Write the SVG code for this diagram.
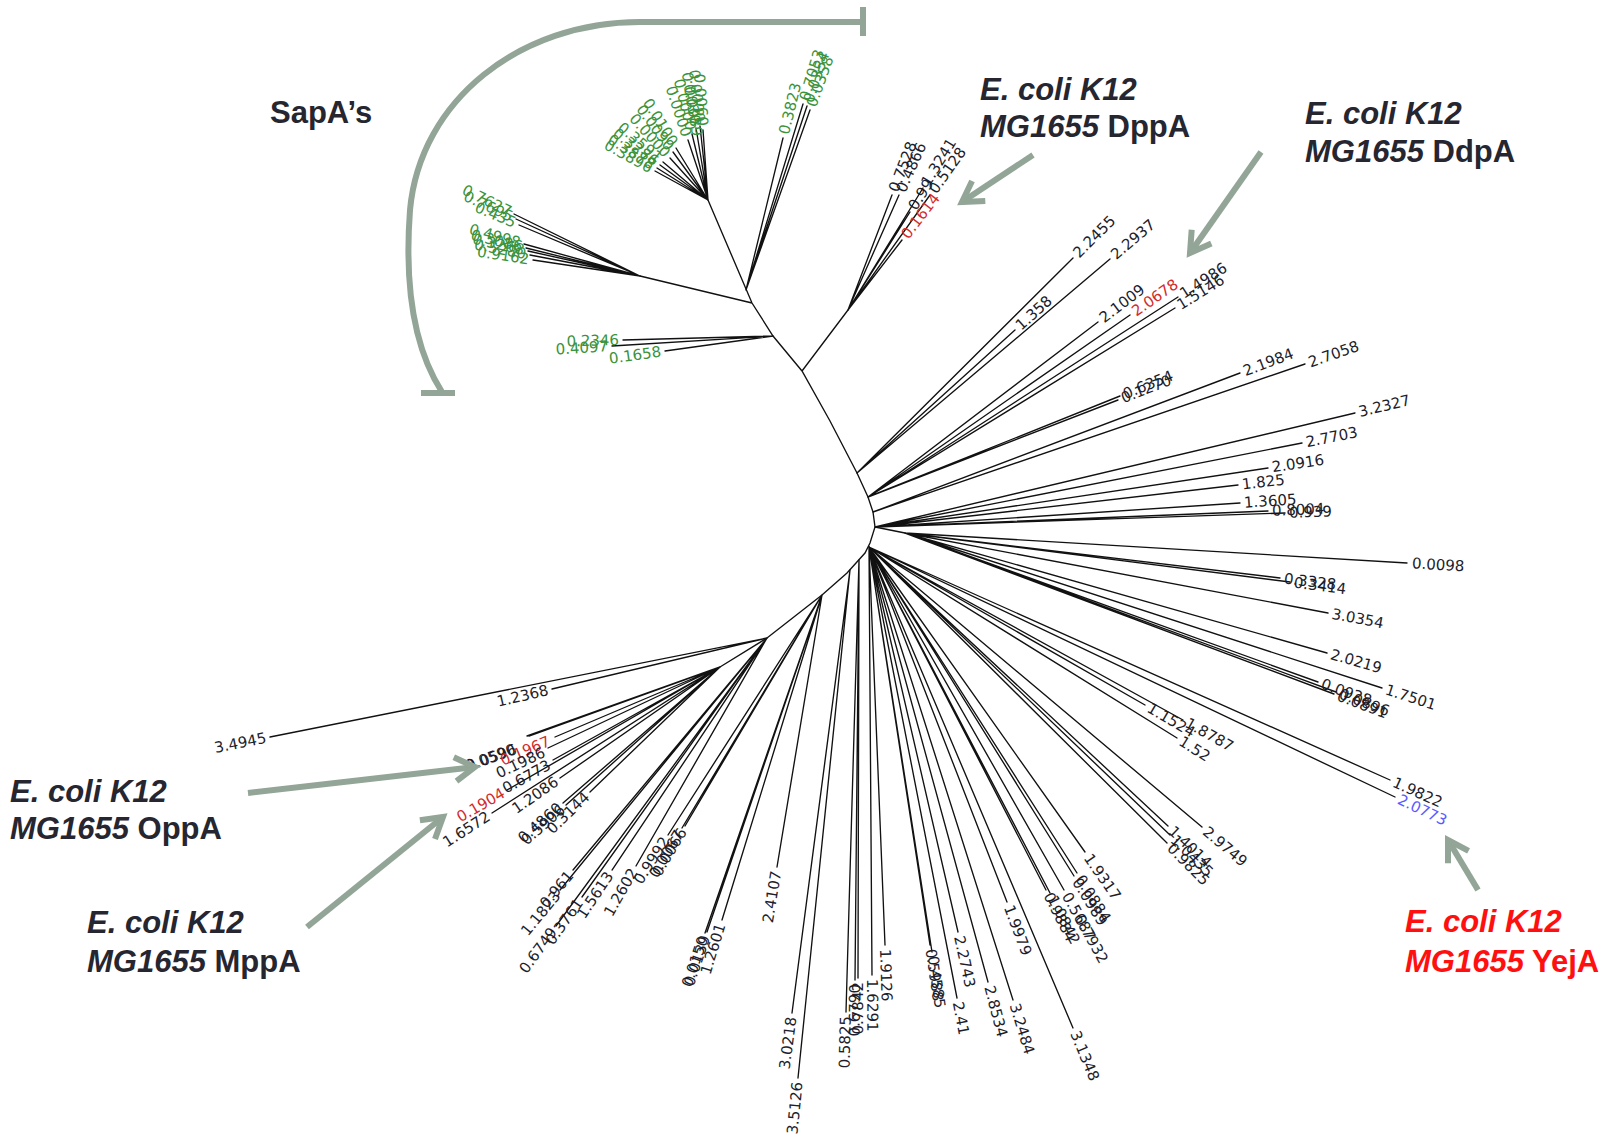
<svg xmlns="http://www.w3.org/2000/svg" width="1610" height="1140" viewBox="0 0 1610 1140">
<style>
.br{stroke:#111;stroke-width:1.35;fill:none;stroke-linecap:round}
.t{font-family:"DejaVu Sans","Liberation Sans",sans-serif;font-size:15px;fill:#1d1d2b;dominant-baseline:central}
.e{text-anchor:end}
.g{fill:#3a933a}
.r{fill:#d42a2a}
.b{fill:#5a5aff}
.ann{font-family:"Liberation Sans",Arial,sans-serif;font-weight:bold;font-size:31px;fill:#262630}
.red{fill:#ff1010}
.arr{stroke:#92a596;stroke-width:6;fill:none}
</style>
<defs>
<marker id="ah" markerUnits="userSpaceOnUse" viewBox="-30 -20 40 40" markerWidth="40" markerHeight="40" refX="0" refY="0" orient="auto" overflow="visible">
<path d="M-20,-12 L0,0 L-20,12" fill="none" stroke="#92a596" stroke-width="6"/>
</marker>
</defs>
<rect width="1610" height="1140" fill="#fff"/>

<g id="backbone">
<path class="br" d="M708,200 L752,303 L773,336 L802,371 L830,421 L857,473 L868,497 L873,512 L875,527 L870,543 L865,553 L847,573 L822,595 L767,638 L720,667 M752,303 L640,276 M802,371 L848,310 M875,527 L905,533"/>
</g>

<g id="clade-sapa-top">
<path class="br" d="M746,290 L783,138 M746,290 L803,104 M746,290 L807,106 M746,290 L810,110"/>
<text class="t g" transform="translate(783 138) rotate(-76.3)" dx="4">0.3823</text>
<text class="t g" transform="translate(803 104) rotate(-73)" dx="4">0.7053</text>
<text class="t g" transform="translate(807 106) rotate(-71.7)" dx="4">0.0354</text>
<text class="t g" transform="translate(810 110) rotate(-70.4)" dx="4">0.0358</text>
</g>

<g id="clade-sapa-upper">
<path class="br" d="M708,200 L692,134 M708,200 L696,128 M708,200 L700,126 M708,200 L703,130 M708,200 L688,140 M708,200 L698,140 M708,200 L670,158 M708,200 L673,152 M708,200 L676,148 M708,200 L657,168 M708,200 L660,165 M708,200 L663,162 M708,200 L655,171"/>
<text class="t g e" transform="translate(692 134) rotate(76.4)" dx="-4">0.0000</text>
<text class="t g e" transform="translate(696 128) rotate(80.5)" dx="-4">0.0030</text>
<text class="t g e" transform="translate(700 126) rotate(83.8)" dx="-4">0.0000</text>
<text class="t g e" transform="translate(703 130) rotate(86)" dx="-4">0.0060</text>
<text class="t g e" transform="translate(688 140) rotate(71.6)" dx="-4">0.0000</text>
<text class="t g e" transform="translate(698 140) rotate(80.5)" dx="-4">0.0089</text>
<text class="t g e" transform="translate(670 158) rotate(48)" dx="-4">0.0000</text>
<text class="t g e" transform="translate(673 152) rotate(54)" dx="-4">0.0090</text>
<text class="t g e" transform="translate(676 148) rotate(58.4)" dx="-4">0.0100</text>
<text class="t g e" transform="translate(657 168) rotate(32.1)" dx="-4">0.3878</text>
<text class="t g e" transform="translate(660 165) rotate(36.1)" dx="-4">0.3286</text>
<text class="t g e" transform="translate(663 162) rotate(40.2)" dx="-4">0.3591</text>
<text class="t g e" transform="translate(655 171) rotate(28.7)" dx="-4">0.3896</text>
</g>

<g id="clade-sapa-left">
<path class="br" d="M640,276 L514,214 M640,276 L516,219 M640,276 L519,225 M640,276 L524,244 M640,276 L526,248 M640,276 L528,251 M640,276 L530,255 M640,276 L533,260"/>
<text class="t g e" transform="translate(514 214) rotate(26.2)" dx="-4">0.7627</text>
<text class="t g e" transform="translate(516 219) rotate(24.7)" dx="-4">0.7695</text>
<text class="t g e" transform="translate(519 225) rotate(22.9)" dx="-4">0.435</text>
<text class="t g e" transform="translate(524 244) rotate(15.4)" dx="-4">0.4998</text>
<text class="t g e" transform="translate(526 248) rotate(13.8)" dx="-4">0.3086</text>
<text class="t g e" transform="translate(528 251) rotate(12.6)" dx="-4">0.3268</text>
<text class="t g e" transform="translate(530 255) rotate(10.8)" dx="-4">0.5280</text>
<text class="t g e" transform="translate(533 260) rotate(8.5)" dx="-4">0.9162</text>
</g>

<g id="clade-sapa-bottom">
<path class="br" d="M773,336 L623,340 M773,336 L612,346 M773,336 L665,351"/>
<text class="t g e" transform="translate(623 340) rotate(-1.5)" dx="-4">0.2346</text>
<text class="t g e" transform="translate(612 346) rotate(-3.6)" dx="-4">0.4097</text>
<text class="t g e" transform="translate(665 351) rotate(-7.9)" dx="-4">0.1658</text>
</g>

<g id="clade-dppa">
<path class="br" d="M848,310 L892,195 M848,310 L899,195 M848,310 L923,188 M848,310 L930,195 M848,310 L910,212 M848,310 L902,240"/>
<text class="t" transform="translate(892 195) rotate(-69)" dx="4">0.7528</text>
<text class="t" transform="translate(899 195) rotate(-65.9)" dx="4">0.4866</text>
<text class="t" transform="translate(923 188) rotate(-58.5)" dx="4">1.3241</text>
<text class="t" transform="translate(930 195) rotate(-54.5)" dx="4">0.5128</text>
<text class="t" transform="translate(910 212) rotate(-57.7)" dx="4">0.99</text>
<text class="t r" transform="translate(902 240) rotate(-52.2)" dx="4">0.1614</text>
</g>

<g id="clade-ddpa">
<path class="br" d="M857,473 L1073,258 M857,473 L1015,330 M857,473 L1110,259 M868,497 L1098,322 M868,497 L1130,315 M868,497 L1178,297 M868,497 L1175,308 M868,497 L1120,396 M868,497 L1118,400 M873,512 L1240,373 M873,512 L1305,364"/>
<text class="t" transform="translate(1073 258) rotate(-44.9)" dx="4">2.2455</text>
<text class="t" transform="translate(1015 330) rotate(-42.1)" dx="4">1.358</text>
<text class="t" transform="translate(1110 259) rotate(-40.2)" dx="4">2.2937</text>
<text class="t" transform="translate(1098 322) rotate(-37.3)" dx="4">2.1009</text>
<text class="t r" transform="translate(1130 315) rotate(-34.8)" dx="4">2.0678</text>
<text class="t" transform="translate(1178 297) rotate(-32.8)" dx="4">1.4986</text>
<text class="t" transform="translate(1175 308) rotate(-31.6)" dx="4">1.5146</text>
<text class="t" transform="translate(1120 396) rotate(-21.8)" dx="4">0.6354</text>
<text class="t" transform="translate(1118 400) rotate(-21.2)" dx="4">0.1270</text>
<text class="t" transform="translate(1240 373) rotate(-20.7)" dx="4">2.1984</text>
<text class="t" transform="translate(1305 364) rotate(-18.9)" dx="4">2.7058</text>
</g>

<g id="clade-right-upper">
<path class="br" d="M875,527 L1355,413 M875,527 L1302,443 M875,527 L1268,468 M875,527 L1238,485 M875,527 L1240,503 M875,527 L1268,511 M875,527 L1285,513"/>
<text class="t" transform="translate(1355 413) rotate(-13.4)" dx="4">3.2327</text>
<text class="t" transform="translate(1302 443) rotate(-11.1)" dx="4">2.7703</text>
<text class="t" transform="translate(1268 468) rotate(-8.5)" dx="4">2.0916</text>
<text class="t" transform="translate(1238 485) rotate(-6.6)" dx="4">1.825</text>
<text class="t" transform="translate(1240 503) rotate(-3.8)" dx="4">1.3605</text>
<text class="t" transform="translate(1268 511) rotate(-2.3)" dx="4">0.8004</text>
<text class="t" transform="translate(1285 513) rotate(-2)" dx="4">0.939</text>
</g>

<g id="clade-right-lower">
<path class="br" d="M905,533 L1407,563 M905,533 L1280,578 M905,533 L1290,582 M905,533 L1328,613 M905,533 L1327,653 M905,533 L1382,688 M905,533 L1318,682 M905,533 L1336,692 M905,533 L1334,694"/>
<text class="t" transform="translate(1407 563) rotate(3.4)" dx="5">0.0098</text>
<text class="t" transform="translate(1280 578) rotate(6.8)" dx="4">0.3328</text>
<text class="t" transform="translate(1290 582) rotate(7.3)" dx="4">0.3414</text>
<text class="t" transform="translate(1328 613) rotate(10.7)" dx="4">3.0354</text>
<text class="t" transform="translate(1327 653) rotate(15.9)" dx="4">2.0219</text>
<text class="t" transform="translate(1382 688) rotate(18)" dx="4">1.7501</text>
<text class="t" transform="translate(1318 682) rotate(19.8)" dx="4">0.0928</text>
<text class="t" transform="translate(1336 692) rotate(20.3)" dx="4">0.0896</text>
<text class="t" transform="translate(1334 694) rotate(20.6)" dx="4">0.0891</text>
</g>

<g id="clade-yeja">
<path class="br" d="M869,547 L1390,780 M869,547 L1395,797 M869,547 L1145,705 M869,547 L1183,720 M869,547 L1177,738 M869,547 L1202,827 M869,547 L1168,826 M869,547 L1170,835 M869,547 L1167,843"/>
<text class="t" transform="translate(1390 780) rotate(24.3)" dx="4">1.9822</text>
<text class="t b" transform="translate(1395 797) rotate(25.6)" dx="4">2.0773</text>
<text class="t" transform="translate(1145 705) rotate(30.2)" dx="4">1.1524</text>
<text class="t" transform="translate(1183 720) rotate(29.2)" dx="4">1.8787</text>
<text class="t" transform="translate(1177 738) rotate(32.1)" dx="4">1.52</text>
<text class="t" transform="translate(1202 827) rotate(40.4)" dx="4">2.9749</text>
<text class="t" transform="translate(1168 826) rotate(43.4)" dx="4">1.4014</text>
<text class="t" transform="translate(1170 835) rotate(44.1)" dx="4">1.0435</text>
<text class="t" transform="translate(1167 843) rotate(45.2)" dx="4">0.9825</text>
</g>

<g id="clade-down-right">
<path class="br" d="M869,547 L1085,852 M869,547 L1077,873 M869,547 L1074,876 M869,547 L1064,890 M869,547 L1050,893 M869,547 L1046,890 M869,547 L1007,902 M869,547 L1073,1028 M869,547 L1013,1000 M869,547 L988,982 M869,547 L958,932 M869,547 L957,998 M869,547 L932,952 M869,547 L930,945 M869,547 L885,945 M869,547 L872,975"/>
<text class="t" transform="translate(1085 852) rotate(55.2)" dx="4">1.9317</text>
<text class="t" transform="translate(1077 873) rotate(58)" dx="4">0.0884</text>
<text class="t" transform="translate(1074 876) rotate(58.6)" dx="4">0.0989</text>
<text class="t" transform="translate(1064 890) rotate(60.9)" dx="4">0.5687</text>
<text class="t" transform="translate(1064 890) rotate(60.9)" dx="30">0.7932</text>
<text class="t" transform="translate(1050 893) rotate(62.9)" dx="4">1.0842</text>
<text class="t" transform="translate(1046 890) rotate(63.2)" dx="4">0.9884</text>
<text class="t" transform="translate(1007 902) rotate(69.3)" dx="4">1.9979</text>
<text class="t" transform="translate(1073 1028) rotate(67.4)" dx="4">3.1348</text>
<text class="t" transform="translate(1013 1000) rotate(72.8)" dx="4">3.2484</text>
<text class="t" transform="translate(988 982) rotate(75.2)" dx="4">2.8534</text>
<text class="t" transform="translate(958 932) rotate(77.5)" dx="4">2.2743</text>
<text class="t" transform="translate(957 998) rotate(79.4)" dx="4">2.41</text>
<text class="t" transform="translate(932 952) rotate(81.7)" dx="4">0.4585</text>
<text class="t" transform="translate(930 945) rotate(81.8)" dx="4">0.5988</text>
<text class="t" transform="translate(885 945) rotate(88.3)" dx="4">1.9126</text>
<text class="t" transform="translate(872 975) rotate(89.6)" dx="4">1.6291</text>
</g>

<g id="clade-down">
<path class="br" d="M859,560 L858,978 M859,560 L855,980 M859,560 L846,1012 M850,570 L792,1013 M850,570 L798,1078 M822,595 L777,867 M822,595 L707,932 M822,595 L705,933 M822,595 L722,920 M822,595 L668,835 M822,595 L682,828 M822,595 L685,826"/>
<text class="t e" transform="translate(858 978) rotate(-89.9)" dx="-4">0.7842</text>
<text class="t e" transform="translate(855 980) rotate(-89.5)" dx="-4">0.6790</text>
<text class="t e" transform="translate(846 1012) rotate(-88.4)" dx="-4">0.5825</text>
<text class="t e" transform="translate(792 1013) rotate(-82.5)" dx="-4">3.0218</text>
<text class="t e" transform="translate(798 1078) rotate(-84.2)" dx="-4">3.5126</text>
<text class="t e" transform="translate(777 867) rotate(-80.6)" dx="-4">2.4107</text>
<text class="t e" transform="translate(707 932) rotate(-71.2)" dx="-4">0.0139</text>
<text class="t e" transform="translate(705 933) rotate(-70.9)" dx="-4">0.0150</text>
<text class="t e" transform="translate(722 920) rotate(-72.9)" dx="-4">1.2601</text>
<text class="t e" transform="translate(668 835) rotate(-57.3)" dx="-4">0.9992</text>
<text class="t e" transform="translate(682 828) rotate(-59)" dx="-4">0.0067</text>
<text class="t e" transform="translate(685 826) rotate(-59.3)" dx="-4">0.0066</text>
</g>

<g id="clade-down-left">
<path class="br" d="M767,638 L636,866 M767,638 L612,870 M767,638 L582,897 M767,638 L573,870 M767,638 L560,890 M767,638 L556,926 M767,638 L552,689 M767,638 L270,737"/>
<text class="t e" transform="translate(636 866) rotate(-60.1)" dx="-4">1.2602</text>
<text class="t e" transform="translate(612 870) rotate(-56.3)" dx="-4">1.5613</text>
<text class="t e" transform="translate(582 897) rotate(-54.5)" dx="-4">0.3761</text>
<text class="t e" transform="translate(573 870) rotate(-50.1)" dx="-4">0.961</text>
<text class="t e" transform="translate(560 890) rotate(-50.6)" dx="-4">1.1823</text>
<text class="t e" transform="translate(556 926) rotate(-53.8)" dx="-4">0.6749</text>
<text class="t e" transform="translate(552 689) rotate(-13.3)" dx="-4">1.2368</text>
<text class="t e" transform="translate(270 737) rotate(-11.3)" dx="-4">3.4945</text>
</g>

<g id="clade-oppa">
<path class="br" d="M720,667 L527,736 M720,667 L529,736 M720,667 L555,737 M720,667 L548,748 M720,667 L553,760 M720,667 L507,790 M720,667 L560,778 M720,667 L492,813 M720,667 L563,803 M720,667 L566,805 M720,667 L590,792"/>
<text class="t e" transform="translate(517 748) rotate(-19.7)" dx="-2">0.0590</text>
<text class="t e" transform="translate(518 748) rotate(-19.9)" dx="-2">0.0596</text>
<text class="t e r" transform="translate(553 739) rotate(-23)" dx="-4">0.1967</text>
<text class="t e" transform="translate(548 750) rotate(-25.2)" dx="-4">0.1986</text>
<text class="t e" transform="translate(553 762) rotate(-29.1)" dx="-4">0.6773</text>
<text class="t e r" transform="translate(507 790) rotate(-30)" dx="-4">0.1904</text>
<text class="t e" transform="translate(560 778) rotate(-34.7)" dx="-4">1.2086</text>
<text class="t e" transform="translate(492 813) rotate(-32.6)" dx="-4">1.6572</text>
<text class="t e" transform="translate(563 803) rotate(-40.9)" dx="-4">0.4860</text>
<text class="t e" transform="translate(566 805) rotate(-41)" dx="-4">0.5906</text>
<text class="t e" transform="translate(590 792) rotate(-43.9)" dx="-4">0.3144</text>
</g>

<g id="sapa-bracket">
<path class="arr" d="M863,22 L640,22 C520,22 420,100 410,210 C404,290 415,350 442,392 M863,7 L863,36 M421,393 L455,393"/>
<text class="ann" x="270" y="123" font-size="29">SapA’s</text>
</g>

<g id="label-dppa">
<text class="ann" x="980" y="100"><tspan font-style="italic">E. coli K12</tspan><tspan x="980" y="137" font-style="italic">MG1655</tspan> DppA</text>
</g>
<g id="label-ddpa">
<text class="ann" x="1305" y="124"><tspan font-style="italic">E. coli K12</tspan><tspan x="1305" y="162" font-style="italic">MG1655</tspan> DdpA</text>
</g>
<g id="label-oppa">
<text class="ann" x="10" y="802"><tspan font-style="italic">E. coli K12</tspan><tspan x="10" y="839" font-style="italic">MG1655</tspan> OppA</text>
</g>
<g id="label-mppa">
<text class="ann" x="87" y="933"><tspan font-style="italic">E. coli K12</tspan><tspan x="87" y="972" font-style="italic">MG1655</tspan> MppA</text>
</g>
<g id="label-yeja">
<text class="ann red" x="1405" y="932"><tspan font-style="italic">E. coli K12</tspan><tspan x="1405" y="972" font-style="italic">MG1655</tspan> YejA</text>
</g>

<g id="connectors">
<line class="arr" x1="1033" y1="155" x2="962" y2="202" marker-end="url(#ah)"/>
<line class="arr" x1="1261" y1="152" x2="1190" y2="253" marker-end="url(#ah)"/>
<line class="arr" x1="248" y1="793" x2="475" y2="767" marker-end="url(#ah)"/>
<line class="arr" x1="307" y1="927" x2="443" y2="817" marker-end="url(#ah)"/>
<line class="arr" x1="1478" y1="890" x2="1448" y2="840" marker-end="url(#ah)"/>
</g>
</svg>
